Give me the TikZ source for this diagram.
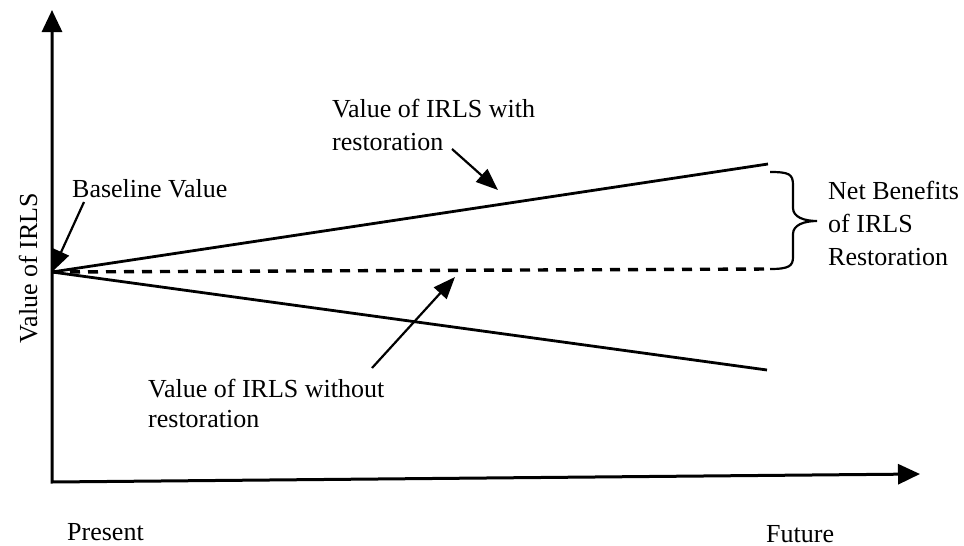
\documentclass[tikz,border=0pt]{standalone}
\usepackage{fontspec}
\setmainfont{Liberation Serif}
\usetikzlibrary{arrows.meta}
\begin{document}
\begin{tikzpicture}[x=1pt,y=-1pt,
  axis/.style={line width=3pt,line join=miter},
  trend/.style={line width=2.8pt},
  pointer/.style={line width=2.2pt,-{Triangle[length=22pt,width=17pt]}},
  lbl/.style={font=\fontsize{26}{33}\selectfont,inner sep=0pt,align=left},
  bracefig/.style={line width=2.2pt}]
\useasboundingbox (0,0) rectangle (964,546);

% axes
\coordinate (ytip) at (52,10);
\coordinate (corner) at (52,482);
\coordinate (xtip) at (920,474);
\draw[axis,{Triangle[length=22pt,width=20pt]}-{Triangle[length=22pt,width=20pt]}]
  (ytip) -- (corner) -- (xtip);

% value paths starting from the baseline
\coordinate (O) at (52,272);
\coordinate (withend) at (768,164);
\coordinate (baseend) at (770,269);
\coordinate (woend) at (767,370);
\draw[trend] (O) -- (withend);
\draw[trend,line width=3.4pt,dash pattern=on 10pt off 8pt] (O) -- (baseend);
\draw[trend] (O) -- (woend);

% brace for the net benefits
\draw[bracefig] (770,172) .. controls (789,172) and (793,174) .. (793,185)
  -- (793,208) .. controls (793,217) and (804,221) .. (817,221)
  .. controls (804,221) and (793,225) .. (793,234)
  -- (793,257) .. controls (793,266) and (789,269) .. (770,269);

% labels
\node[lbl,anchor=north west] (netlbl) at (828,181) {Net Benefits\\of IRLS\\Restoration};
\node[lbl,anchor=north west] (withlbl) at (332,99) {Value of IRLS with\\restoration};
\node[lbl,anchor=north west,font=\fontsize{26}{30}\selectfont] (wolbl) at (148,379) {Value of IRLS without\\restoration};
\node[lbl,anchor=base west] (baselbl) at (72,197) {Baseline Value};
\node[lbl,anchor=base west] (present) at (67,540) {Present};
\node[lbl,anchor=base west] (future) at (766,542) {Future};
\node[lbl,rotate=90,anchor=base east] (ylbl) at (37,193) {Value of IRLS};

% pointer arrows
\coordinate (withfrom) at (452,149);
\coordinate (withto) at (498,190);
\coordinate (wofrom) at (372,368);
\coordinate (woto) at (455,277);
\coordinate (basefrom) at (84,202);
\draw[pointer] (withfrom) -- (withto);
\draw[pointer] (wofrom) -- (woto);
\draw[pointer] (basefrom) -- (O);
\end{tikzpicture}
\end{document}
